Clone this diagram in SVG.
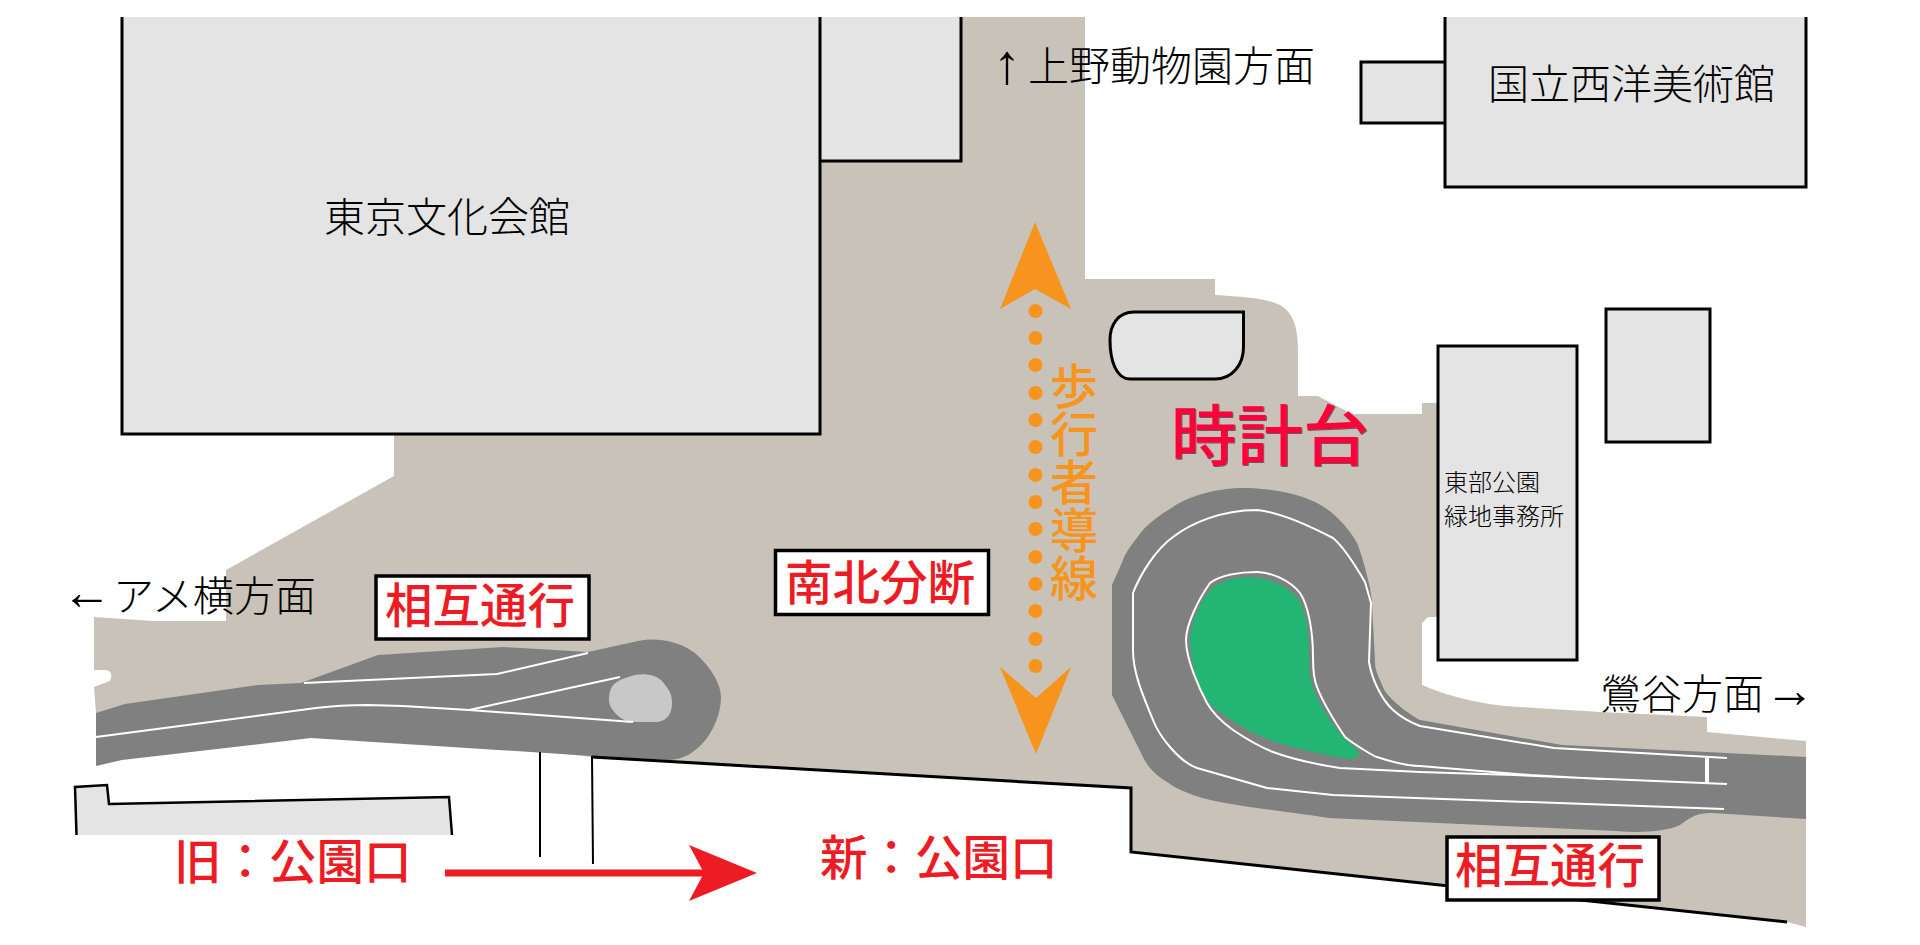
<svg xmlns="http://www.w3.org/2000/svg" width="1920" height="945" viewBox="0 0 1920 945">
<defs><filter id="sh" x="-5%" y="-5%" width="110%" height="110%"><feDropShadow dx="0.800" dy="0.800" stdDeviation="0.600" flood-color="#444"/></filter></defs>
<style>
text{font-family:"Noto Sans CJK JP","Noto Sans CJK SC",sans-serif}
.bld{fill:#e4e4e4;stroke:none}
.edge{fill:none;stroke:#000;stroke-width:3}
.lbl{fill:#000;font-size:41px;font-weight:300}
.arw{fill:#000;font-size:50px;font-family:"Liberation Sans",sans-serif}
.sm{fill:#000;font-size:24px;font-weight:300}
.red{fill:#ed1c24;font-size:47.500px;font-weight:500}
.box{fill:#fff;stroke:#000;stroke-width:3.500}
.wl{fill:none;stroke:#fff;stroke-width:2;stroke-linejoin:round}
.road{fill:#808080}
.dot{fill:#f7941e}
</style>
<rect width="1920" height="945" fill="#fff"/>
<g id="ground">
<path fill="#c8c2b8" d="M94,617 L153,621 H226 V570 L394,476 V400 H820 V17 H1085 V279 H1215 V295 C1245,297 1265,298 1280,305 C1292,312 1298,325 1298,350 V396 H1318 L1352,414 H1422 V403 H1440 V617 H1428 L1422,623 V685 C1445,695 1480,705 1519,707 L1600,712 L1707,717 V732 L1806,741 V927 L1787,922 L1131,852 V787 L592,757 L311,725 L96,750 V713 L94,687 L110,681 Q114,672 106,670 L94,670 Z"/>
</g>
<g id="tokyo-bunka-kaikan">
<rect class="bld" x="122" y="17" width="698" height="417"/>
<rect class="bld" x="820" y="17" width="141" height="144"/>
<path class="edge" d="M122,17 V434 H820 V17"/>
<path class="edge" stroke-width="2.500" d="M961,17 V161 H820"/>
<text class="lbl" x="324" y="232">東京文化会館</text>
</g>
<g id="museum">
<rect class="bld" x="1361" y="62" width="84" height="61"/>
<path class="edge" d="M1445,62 H1361 V123 H1445"/>
<rect class="bld" x="1445" y="17" width="361" height="170"/>
<path class="edge" d="M1445,17 V187 H1806 V17"/>
<text class="lbl" x="1488" y="99">国立西洋美術館</text>
</g>
<g id="kiosk"><path fill="#e4e4e4" stroke="#000" stroke-width="3" d="M1134,312 H1243.500 V347 C1243.500,365 1232,379 1215,379 H1130 C1116,379 1110,360 1110,340 C1110,325 1118,312 1134,312 Z"/></g>
<g id="east-office">
<rect fill="#e4e4e4" stroke="#000" stroke-width="3" x="1438" y="346" width="139" height="314"/>
<text class="sm" x="1444" y="491">東部公園</text>
<text class="sm" x="1444" y="525">緑地事務所</text>
</g>
<g id="east-annex"><rect fill="#e4e4e4" stroke="#000" stroke-width="3" x="1606" y="309" width="104" height="133"/></g>
<g id="station-old">
<path class="bld" d="M75,787 L107,785 L109,804 L449,797 L452,835 H76.500 Z"/>
<path fill="none" stroke="#000" stroke-width="2.500" d="M76.500,835 L75,787 L107,785 L109,804 L449,797 L452,835"/>
</g>
<g id="road-west">
<path class="road" d="M96,713 L125,704 L258,685 L301,683 L378,655 L503,647 L588,652 L638,641 C650,638 675,638 695,653 C712,668 721,685 721,697 C721,715 712,735 699,747 C690,755 680,760 668,760 L592,756 L311,738 L122,760 L96,766 Z"/>
<path fill="#c8c8c8" d="M635,675 C645,673 655,675 661,680 C670,690 672,695 672,703 C672,712 668,722 655,722 L633,722 C622,722 609,710 609,700 C609,685 615,680 635,675 Z"/>
<path class="wl" d="M96,737 L316,708 Q340,705 367,705 L403,706 L469,710 L633,722"/>
<path class="wl" d="M304,683 L497,674 L588,653"/>
<path class="wl" d="M469,710 L620,677"/>
</g>
<g id="road-east">
<path class="road" d="M1112,585 V695 L1143,757 C1148,768 1158,777 1167,782 C1175,788 1185,792 1193,795 C1225,806 1280,810 1329,818 L1616,831 C1640,833 1665,832 1680,825 C1690,818 1695,813 1712,813 L1806,819 V757 L1707,752 L1562,745 L1420,720 C1405,712 1385,695 1383,687 C1378,675 1375,670 1375,662 L1372,603 C1372,590 1362,555 1357,543 C1350,530 1335,512 1317,503 C1295,492 1265,488 1243,488 C1220,488 1190,495 1173,507 C1160,515 1150,522 1143,530 C1135,540 1125,553 1123,560 Z"/>
<path fill="#22b573" d="M1250,577 C1265,577 1285,584 1297,597 C1305,607 1309,625 1309,657 C1309,670 1310,678 1313,687 C1317,700 1330,722 1343,737 L1358,750 C1361,754 1358,758 1350,759 C1335,757 1300,750 1285,745 C1265,740 1235,725 1213,707 C1205,700 1202,690 1200,687 C1195,675 1190,655 1190,640 C1190,625 1200,600 1212,588 C1222,580 1237,577 1250,577 Z"/>
<path class="wl" d="M1724,809 L1333,795 L1267,788 L1197,768 C1180,762 1160,738 1153,720 C1145,700 1133,675 1133,650 V593 C1140,575 1155,550 1173,537 C1190,524 1220,510 1257,510 C1280,512 1310,526 1333,538 C1345,548 1358,570 1365,582 L1371,603 L1369,662 C1372,680 1382,700 1393,710 C1402,718 1412,723 1420,726 L1554,748 L1727,758"/>
<path class="wl" d="M1727,784 L1514,775 L1420,772 L1340,768 C1320,765 1295,760 1273,752 C1260,747 1245,738 1233,730 C1222,722 1212,712 1207,703 C1200,690 1186,660 1186,640 C1186,625 1198,600 1210,583 C1220,575 1240,572 1257,572 C1270,572 1290,580 1300,593 C1308,605 1313,630 1313,657 C1313,670 1314,680 1317,687 C1322,700 1335,722 1345,737 C1355,745 1375,757 1377,757 C1395,763 1410,766 1420,766 L1530,775 L1600,779"/>
<path fill="none" stroke="#fff" stroke-width="4" d="M1707,758 V784"/>
</g>
<g id="connectors">
<path class="edge" d="M592,757 L1131,788 V852 L1787,922"/>
<path fill="none" stroke="#000" stroke-width="2" d="M540,752 V857 M592,756 L593,864"/>
<g id="walk-arrow">
<polygon class="dot" points="1035,222 1071,309 1035,289 1000,309"/>
<polygon class="dot" points="1036,754 1071,667 1036,698 1000,667"/>
<g class="dot"><circle cx="1035.500" cy="311" r="7"/><circle cx="1035.500" cy="338" r="7"/><circle cx="1035.500" cy="365" r="7"/><circle cx="1035.500" cy="393" r="7"/><circle cx="1035.500" cy="420" r="7"/><circle cx="1035.500" cy="447" r="7"/><circle cx="1035.500" cy="475" r="7"/><circle cx="1035.500" cy="502" r="7"/><circle cx="1035.500" cy="529" r="7"/><circle cx="1035.500" cy="557" r="7"/><circle cx="1035.500" cy="584" r="7"/><circle cx="1035.500" cy="611" r="7"/><circle cx="1035.500" cy="639" r="7"/><circle cx="1035.500" cy="666" r="7"/></g>
</g>
<g id="red-arrow">
<rect x="445" y="869.500" width="262" height="7" fill="#ed1c24"/>
<polygon fill="#ed1c24" points="689,845 757,873 689,901 704,873"/>
</g>
</g>
<g id="labels">
<text x="1051" y="362" fill="#f7941e" font-size="48" font-weight="500" style="writing-mode:vertical-rl" transform="translate(23,0)">歩行者導線</text>
<text x="1171" y="460" fill="#ff003c" font-size="66" font-weight="500" filter="url(#sh)">時計台</text>
<text class="lbl"><tspan class="arw" style="font-size:56px" x="993" y="83">↑</tspan><tspan x="1028" y="81">上野動物園方面</tspan></text>
<text class="lbl"><tspan class="arw" x="62" y="609">←</tspan><tspan x="113" y="611">アメ横方面</tspan></text>
<text class="lbl"><tspan x="1600" y="709">鶯谷方面</tspan><tspan class="arw" x="1765" y="707">→</tspan></text>
<rect class="box" x="376" y="576" width="213" height="63"/>
<text class="red" x="385" y="623">相互通行</text>
<rect class="box" x="775.500" y="550.500" width="213" height="64"/>
<text class="red" x="785" y="600">南北分断</text>
<rect class="box" x="1447" y="837" width="212" height="63"/>
<text class="red" x="1455" y="883">相互通行</text>
<text class="red" x="174" y="879">旧：公園口</text>
<text class="red" x="820" y="875">新：公園口</text>
</g>
</svg>
